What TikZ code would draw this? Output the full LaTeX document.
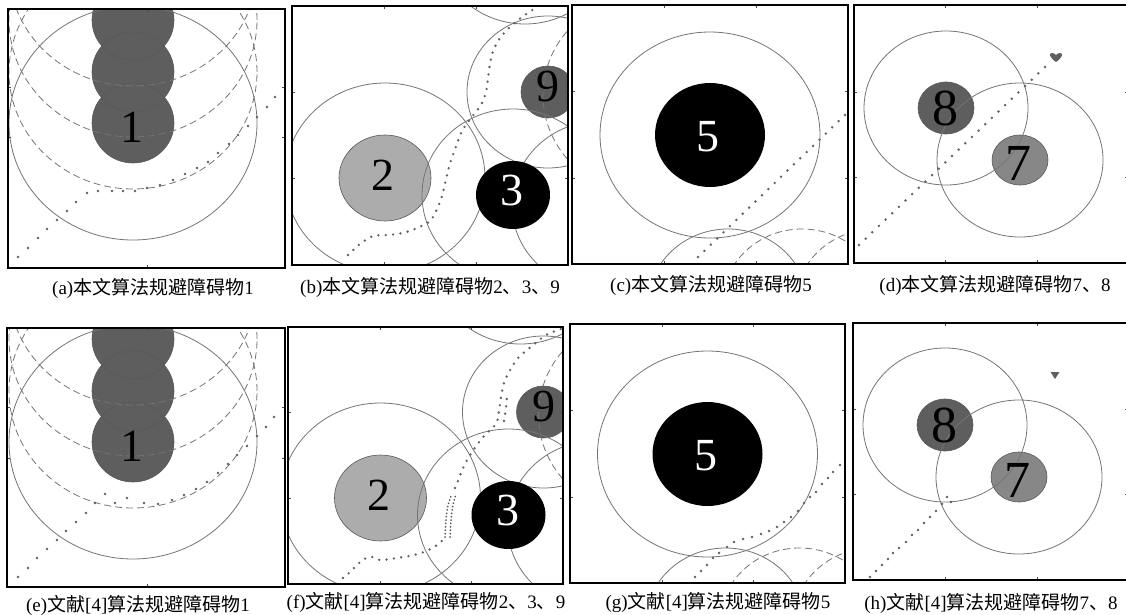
\documentclass[tikz,border=0pt]{standalone}
\usepackage{fontspec}
\setmainfont{Liberation Serif}
\newfontfamily\cjk{Noto Sans CJK SC}
\definecolor{ringgray}{HTML}{757575}
\definecolor{dotgray}{HTML}{606060}
\definecolor{obsdark}{HTML}{5E5E5E}
\definecolor{obslight}{HTML}{ACACAC}
\definecolor{obsmid}{HTML}{878787}
\tikzset{
  ring/.style={draw=ringgray, line width=0.8pt},
  dring/.style={draw=ringgray, line width=0.8pt, dash pattern=on 7pt off 4pt},
  framebox/.style={draw=black, line width=1.8pt},
  tickmark/.style={draw=black!70, line width=0.6pt},
  dotpath/.style={draw=dotgray, line width=2.6pt, line cap=round, dash pattern=on 0pt off 7.4pt},
  densepath/.style={draw=dotgray, line width=2pt, line cap=round, dash pattern=on 0pt off 3.4pt},
  num/.style={font=\fontsize{46}{46}\selectfont, inner sep=0pt},
  bignum/.style={font=\fontsize{52}{52}\selectfont, inner sep=0pt},
  capt/.style={font=\fontsize{19}{21}\selectfont, inner sep=0pt},
  obsout/.style={draw=black!65, line width=0.6pt},
}
\newcommand\mydots[1]{\foreach \px/\py in {#1}{\fill[dotgray] (\px,\py) circle (1.35pt);}}
\newcommand\myframe[6]{%
  \foreach \tx in {#5}{\draw[tickmark] (\tx,#2) -- ++(0,3); \draw[tickmark] (\tx,#4) -- ++(0,-3);}
  \foreach \ty in {#6}{\draw[tickmark] (#1,\ty) -- ++(3,0); \draw[tickmark] (#3,\ty) -- ++(-3,0);}
  \draw[framebox] (#1,#2) rectangle (#3,#4);
}
\newcommand\contA[1]{%
  \foreach \cy in {20,72,123}{\fill[obsdark] (133,\cy) ellipse [x radius=41pt, y radius=40pt];}
  \foreach \cy in {20,72,123}{\draw[obsout] (133,\cy) ellipse [x radius=41pt, y radius=40pt];}
  \draw[ring] (133,123) ellipse [x radius=124pt, y radius=117pt];
  \foreach \cy in {72,20,-31}{\draw[dring] (133,\cy) ellipse [x radius=124pt, y radius=117pt];}
  \node[num] (lab1#1) at (132,127) {1};
}
\newcommand\contB[1]{%
  \fill[obslight] (385,178) ellipse [x radius=46pt, y radius=43pt];
  \draw[obsout] (385,178) ellipse [x radius=46pt, y radius=43pt];
  \fill[obsdark] (548,92) ellipse [x radius=27pt, y radius=26pt];
  \draw[obsout] (548,92) ellipse [x radius=27pt, y radius=26pt];
  \draw[ring] (385,178) ellipse [x radius=100pt, y radius=95pt];
  \draw[ring] (513,195) ellipse [x radius=91pt, y radius=86pt];
  \draw[ring] (600,205) ellipse [x radius=88pt, y radius=84pt];
  \draw[ring] (548,92) ellipse [x radius=81pt, y radius=76pt];
  \draw[ring] (525,-60) ellipse [x radius=88pt, y radius=84pt];
  \draw[dring] (648,95) ellipse [x radius=105pt, y radius=100pt];
  \fill[black] (513,195) ellipse [x radius=37pt, y radius=34pt];
  \node[num] (lab2#1) at (383,175) {2};
  \node[num, text=white] (lab3#1) at (512,190) {3};
  \node[num] (lab9#1) at (548,86) {9};
}
\newcommand\contC[1]{%
  \draw[ring] (710,135) ellipse [x radius=110pt, y radius=103pt];
  \draw[ring] (728,305) ellipse [x radius=80pt, y radius=76pt];
  \draw[dring] (802,305) ellipse [x radius=80pt, y radius=76pt];
  \draw[dring] (875,305) ellipse [x radius=80pt, y radius=76pt];
  \fill[black] (710,135) ellipse [x radius=55pt, y radius=52pt];
  \node[num, text=white] (lab5#1) at (708,137) {5};
}
\newcommand\contD[1]{%
  \fill[obsdark] (946,108) ellipse [x radius=28pt, y radius=26pt];
  \draw[obsout] (946,108) ellipse [x radius=28pt, y radius=26pt];
  \fill[obsmid] (1020,160) ellipse [x radius=28pt, y radius=25pt];
  \draw[obsout] (1020,160) ellipse [x radius=28pt, y radius=25pt];
  \draw[ring] (946,108) ellipse [x radius=82pt, y radius=77pt];
  \draw[ring] (1020,160) ellipse [x radius=83pt, y radius=77pt];
  \node[bignum] (lab8#1) at (945,108) {8};
  \node[bignum] (lab7#1) at (1018,163) {7};
}
\begin{document}
\begin{tikzpicture}[x=1pt, y=-1pt]
\useasboundingbox (0,0) rectangle (1126,615);
\fill[white] (0,0) rectangle (1126,615);

% ---------- (a)
\begin{scope}
  \clip (8,9) rectangle (285,268);
  \contA{a}
  \mydots{18/257, 28/248, 38/238, 47/229, 57/220, 67/211, 76/202, 87/193, 98/191, 112/191, 123/191, 135/191, 147/188, 160/185, 173/180, 185/174, 197/168, 208/162, 218/153, 229/144, 238/135, 248/126, 257/117, 267/107, 275/97}
\end{scope}
\myframe{8}{9}{285}{268}{147}{87,137}
\node[capt] (capa) at (153,288) {(a){\cjk 本文算法规避障碍物}1};

% ---------- (b)
\begin{scope}
  \clip (292,6) rectangle (568,265);
  \contB{b}
  \draw[dotpath] plot[smooth, tension=0.5] coordinates {(348,255) (360,244) (373,236) (388,235) (403,233) (417,228) (431,220) (440,202) (444,188) (449,167) (454,152) (462,131) (471,118) (481,105) (486,92) (488,78) (490,64) (493,51) (500,38) (510,27) (522,17) (534,9)};
\end{scope}
\myframe{292}{6}{568}{265}{384,476}{92,178}
\node[capt] (capb) at (430,287) {(b){\cjk 本文算法规避障碍物}2{\cjk 、}3{\cjk 、}9};

% ---------- (c)
\begin{scope}
  \clip (572,5) rectangle (848,264);
  \contC{c}
  \foreach \i in {0,...,23}{\fill[dotgray] ({698+\i*147/23},{257-\i*142/23}) circle (1.35pt);}
\end{scope}
\myframe{572}{5}{848}{264}{664,756}{91,178}
\node[capt] (capc) at (711,285) {(c){\cjk 本文算法规避障碍物}5};

% ---------- (d)
\begin{scope}
  \clip (854,5) rectangle (1128,263);
  \contD{d}
  \foreach \i in {0,...,28}{\fill[dotgray] ({859+\i*186/28},{245-\i*178/28}) circle (1.35pt);}
  \fill[dotgray] (1056,62) .. controls (1050,58) and (1048,53) .. (1052,53) .. controls (1054,53) and (1055,54) .. (1056,55) .. controls (1057,54) and (1058,53) .. (1060,53) .. controls (1064,53) and (1062,58) .. (1056,62) -- cycle;
\end{scope}
\myframe{854}{5}{1128}{263}{945,1037}{92,177}
\node[capt] (capd) at (995,285) {(d){\cjk 本文算法规避障碍物}7{\cjk 、}8};

% ---------- (e)
\begin{scope}
  \clip (7,328) rectangle (285,587);
  \begin{scope}[shift={(0,319)}]\contA{e}\end{scope}
  \mydots{18/577, 28/568, 37/558, 47/549, 57/540, 66/531, 76/522, 86/513, 95/503, 105/494, 115/503, 127/498, 144/503, 158/504, 172/500, 184/495, 196/489, 207/482, 218/473, 228/464, 237/455, 247/446, 257/436, 266/427, 274/417}
\end{scope}
\myframe{7}{328}{285}{587}{147}{407,458}
\node[capt] (cape) at (138,605) {(e){\cjk 文献}[4]{\cjk 算法规避障碍物}1};

% ---------- (f)
\begin{scope}
  \clip (288,327) rectangle (563,584);
  \begin{scope}[shift={(-4.5,320)}]\contB{f}\end{scope}
  \draw[dotpath] plot[smooth, tension=0.5] coordinates {(343,578) (350,572) (357,565) (364,559) (372,557) (380,560) (390,559) (403,557) (414,555) (424,552) (434,547) (441,542) (445,535)};
  \draw[densepath] plot[smooth] coordinates {(445,537) (446,520) (448,505) (452,494)};
  \draw[densepath] plot[smooth] coordinates {(450,537) (451,520) (453,505) (456,494)};
  \draw[dotpath] plot[smooth, tension=0.5] coordinates {(455,488) (458,481) (461,473) (466,462) (474,449) (484,436) (496,424) (499,411) (501,397) (504,383) (509,372) (518,358) (532,346) (546,335) (561,329)};
  \draw[dotpath] plot[smooth] coordinates {(504,421) (506,408) (507,396)};
\end{scope}
\myframe{288}{327}{563}{584}{380,471}{412,498}
\node[capt] (capf) at (426,602) {(f){\cjk 文献}[4]{\cjk 算法规避障碍物}2{\cjk 、}3{\cjk 、}9};

% ---------- (g)
\begin{scope}
  \clip (570,324) rectangle (845,583);
  \begin{scope}[shift={(-2.5,319)}]\contC{g}\end{scope}
  \mydots{695/577, 701/571, 707/565, 713/558, 719/553, 727/547, 734/542, 743/539, 752/537, 761/534, 769/531, 777/527, 784/522, 791/517, 798/511, 804/503, 810/497, 816/492, 822/484, 828/478, 833/472, 840/465}
\end{scope}
\myframe{570}{324}{845}{583}{662,753}{410,497}
\node[capt] (capg) at (718,602) {(g){\cjk 文献}[4]{\cjk 算法规避障碍物}5};

% ---------- (h)
\begin{scope}
  \clip (853,323) rectangle (1128,580);
  \begin{scope}[shift={(-1,317)}]\contD{h}\end{scope}
  \mydots{870/577, 876/571, 882/565, 888/559, 893/553, 899/548, 906/542, 912/535, 918/530, 924/523, 930/517, 936/511, 942/504, 947/497, 951/502}
  \fill[dotgray] (1050.5,372) -- (1059.5,372) -- (1055,379) -- cycle;
\end{scope}
\myframe{853}{323}{1128}{580}{945,1037}{409,494}
\node[capt] (caph) at (991,603) {(h){\cjk 文献}[4]{\cjk 算法规避障碍物}7{\cjk 、}8};
\end{tikzpicture}
\end{document}
